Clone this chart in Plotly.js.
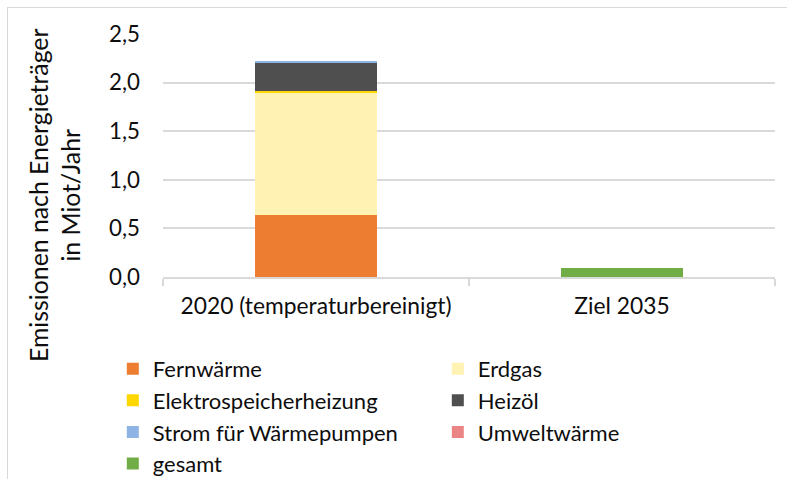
<!DOCTYPE html>
<html>
<head>
<meta charset="utf-8">
<script src="https://cdn.plot.ly/plotly-3.0.1.min.js"></script>
<style>
  body { margin: 0; padding: 0; background: #fff; }
  #chart { width: 787px; height: 479px; position: absolute; left: 0; top: 0; }
  #frame { position: absolute; left: 7px; top: 7px; width: 820px; height: 520px; border: 1.5px solid #d9d9d9; pointer-events: none; }
</style>
</head>
<body>
<div id="chart"></div>
<div id="frame"></div>
<script>
// Data (Mio t CO2 / Jahr)
var categories = ["2020 (temperaturbereinigt)", "Ziel 2035"];
var seriesNames = ["Fernwärme", "Erdgas", "Elektrospeicherheizung", "Heizöl", "Strom für Wärmepumpen", "Umweltwärme", "gesamt"];
var fernwaerme = [0.637, 0];
var erdgas = [1.253, 0];
var elektrospeicher = [0.025, 0];
var heizoel = [0.287, 0];
var stromWP = [0.012, 0];
var umweltwaerme = [0, 0];
var gesamt = [0, 0.096];
var yTickVals = [0, 0.5, 1.0, 1.5, 2.0, 2.5];
var yTickText = ["0,0", "0,5", "1,0", "1,5", "2,0", "2,5"];
var yTitle = "Emissionen nach Energieträger<br>in Miot/Jahr";

var colors = ["#ED7D31", "#FFF2B2", "#FFD700", "#4F4F4F", "#8DB4E2", "#EB8585", "#70AD47"];
var values = [fernwaerme, erdgas, elektrospeicher, heizoel, stromWP, umweltwaerme, gesamt];

var FONT = "Lato, 'Liberation Sans', sans-serif";
var TEXT = "#0d0d0d";

var traces = seriesNames.map(function (name, i) {
  return {
    type: "bar",
    name: name,
    x: categories,
    y: values[i],
    marker: { color: colors[i], line: { width: 0 } },
    hoverinfo: "name+y"
  };
});

var layout = {
  width: 787,
  height: 479,
  margin: { l: 163, r: 12, t: 34, b: 202, autoexpand: false },
  paper_bgcolor: "#ffffff",
  plot_bgcolor: "#ffffff",
  barmode: "stack",
  bargap: 0.6,
  font: { family: FONT, size: 22.8, color: TEXT },
  showlegend: true,
  legend: {
    orientation: "h",
    x: -0.082,
    xanchor: "left",
    y: -0.292,
    yanchor: "top",
    entrywidthmode: "pixels",
    entrywidth: 280,
    traceorder: "normal",
    font: { family: FONT, size: 22, color: TEXT },
    bgcolor: "rgba(0,0,0,0)"
  },
  xaxis: {
    type: "category",
    showgrid: false,
    showline: true,
    linecolor: "#d9d9d9",
    linewidth: 1.5,
    ticks: "outside",
    tickson: "boundaries",
    ticklen: 7,
    tickcolor: "#d9d9d9",
    tickwidth: 1.5,
    ticklabelstandoff: 8,
    tickfont: { family: FONT, size: 22.8, color: TEXT },
    fixedrange: true
  },
  yaxis: {
    range: [0, 2.5],
    tickvals: yTickVals,
    ticktext: yTickText,
    showgrid: true,
    gridcolor: "#d9d9d9",
    gridwidth: 1.5,
    zeroline: false,
    showline: false,
    ticks: "",
    ticklabelstandoff: 22,
    tickfont: { family: FONT, size: 22.3, color: TEXT },
    fixedrange: true
  },
  annotations: [{
    text: yTitle,
    xref: "paper",
    yref: "paper",
    x: (54 - 163) / 612,
    y: (277 - 196) / 243,
    xanchor: "center",
    yanchor: "middle",
    textangle: -90,
    showarrow: false,
    font: { family: FONT, size: 24.8, color: TEXT }
  }]
};

Plotly.newPlot("chart", traces, layout, { displayModeBar: false, staticPlot: false });
</script>
</body>
</html>
